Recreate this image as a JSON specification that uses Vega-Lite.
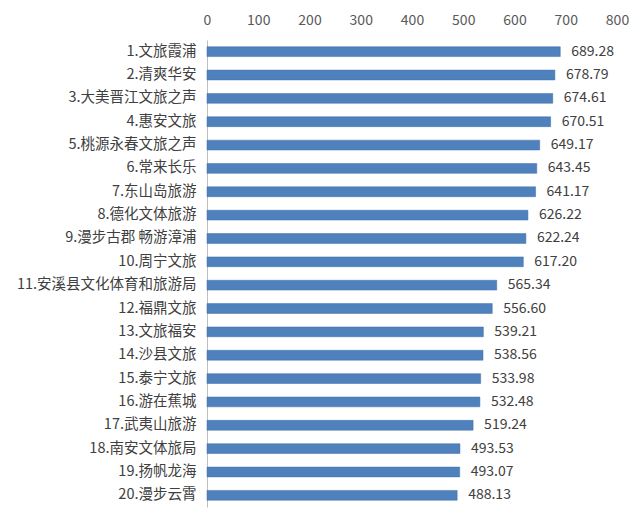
{
  "$schema": "https://vega.github.io/schema/vega-lite/v6.json",
  "width": 410,
  "height": 467,
  "autosize": {"type": "none"},
  "padding": {"left": 207, "top": 40, "right": 23, "bottom": 18},
  "background": "white",
  "data": {
    "values": [
      {"name": "1.文旅霞浦", "score": 689.28},
      {"name": "2.清爽华安", "score": 678.79},
      {"name": "3.大美晋江文旅之声", "score": 674.61},
      {"name": "4.惠安文旅", "score": 670.51},
      {"name": "5.桃源永春文旅之声", "score": 649.17},
      {"name": "6.常来长乐", "score": 643.45},
      {"name": "7.东山岛旅游", "score": 641.17},
      {"name": "8.德化文体旅游", "score": 626.22},
      {"name": "9.漫步古郡 畅游漳浦", "score": 622.24},
      {"name": "10.周宁文旅", "score": 617.20},
      {"name": "11.安溪县文化体育和旅游局", "score": 565.34},
      {"name": "12.福鼎文旅", "score": 556.60},
      {"name": "13.文旅福安", "score": 539.21},
      {"name": "14.沙县文旅", "score": 538.56},
      {"name": "15.泰宁文旅", "score": 533.98},
      {"name": "16.游在蕉城", "score": 532.48},
      {"name": "17.武夷山旅游", "score": 519.24},
      {"name": "18.南安文体旅局", "score": 493.53},
      {"name": "19.扬帆龙海", "score": 493.07},
      {"name": "20.漫步云霄", "score": 488.13}
    ]
  },
  "encoding": {
    "y": {
      "field": "name",
      "type": "nominal",
      "sort": null,
      "scale": {"paddingInner": 0.58, "paddingOuter": 0.29},
      "axis": {
        "title": null,
        "ticks": false,
        "domain": true,
        "domainColor": "#bfbfbf",
        "labelFont": "Noto Sans CJK SC",
        "labelFontSize": 14.5,
        "labelColor": "#404040",
        "labelPadding": 11,
        "labelLimit": 240
      }
    },
    "x": {
      "field": "score",
      "type": "quantitative",
      "scale": {"domain": [0, 800], "nice": false},
      "axis": {
        "orient": "top",
        "title": null,
        "values": [0, 100, 200, 300, 400, 500, 600, 700, 800],
        "grid": false,
        "ticks": false,
        "domain": false,
        "labelFlush": false,
        "labelFont": "Noto Sans CJK SC",
        "labelFontSize": 14,
        "labelColor": "#595959",
        "labelPadding": 13
      }
    }
  },
  "layer": [
    {
      "mark": {"type": "bar", "color": "#4f81bd", "stroke": "#3f6ea6", "strokeWidth": 0.5}
    },
    {
      "mark": {
        "type": "text",
        "align": "left",
        "dx": 11,
        "font": "Noto Sans CJK SC",
        "fontSize": 14,
        "color": "#404040"
      },
      "encoding": {
        "text": {"field": "score", "type": "quantitative", "format": ".2f"}
      }
    }
  ],
  "config": {
    "view": {"stroke": null}
  }
}
